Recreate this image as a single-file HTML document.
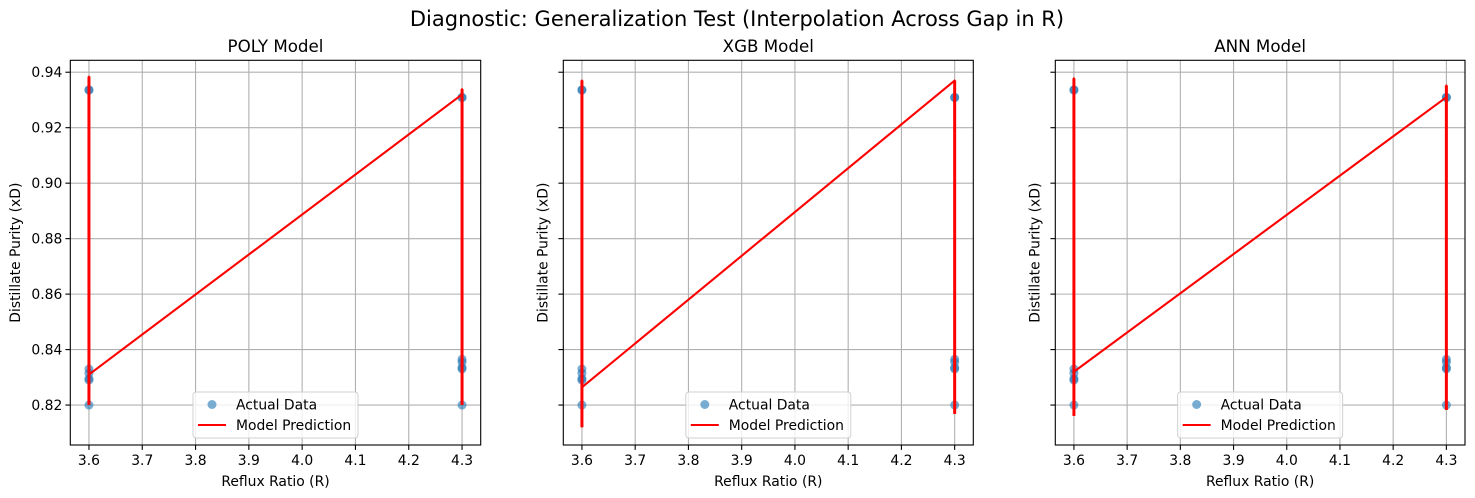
<!DOCTYPE html>
<html><head><meta charset="utf-8"><style>
body{margin:0;background:#fff;}
svg{display:block;font-family:"DejaVu Sans","Liberation Sans",sans-serif;}
</style></head><body>
<svg id="fig" width="1475" height="498" viewBox="0 0 1475 498">
<text x="737" y="26" font-size="21" text-anchor="middle" fill="#000">Diagnostic: Generalization Test (Interpolation Across Gap in R)</text>
</svg>
<script>
const xTicks = [3.6, 3.7, 3.8, 3.9, 4.0, 4.1, 4.2, 4.3];
const xTickLabels = ["3.6","3.7","3.8","3.9","4.0","4.1","4.2","4.3"];
const yTicks = [0.82, 0.84, 0.86, 0.88, 0.90, 0.92, 0.94];
const yTickLabels = ["0.82","0.84","0.86","0.88","0.90","0.92","0.94"];
const modelNames = ["POLY Model", "XGB Model", "ANN Model"];
const actualX = [3.6,3.6,3.6,3.6,3.6,3.6,3.6,4.3,4.3,4.3,4.3,4.3,4.3,4.3];
const actualY = [0.9335,0.9337,0.833,0.8315,0.8295,0.829,0.82,0.931,0.9308,0.8365,0.8355,0.8335,0.833,0.82];
const predX = [3.6,3.6,3.6,4.3,4.3,4.3];
const polyPredY = [0.82,0.9384,0.831,0.932,0.9339,0.82];
const xgbPredY = [0.812,0.937,0.8264,0.937,0.937,0.8168];
const annPredY = [0.8161,0.9378,0.832,0.931,0.9352,0.8182];
const predSeries = [polyPredY, xgbPredY, annPredY];

const NS = "http://www.w3.org/2000/svg";
const svg = document.getElementById("fig");
const panels = [{l:70.3,r:480.7},{l:563.3,r:973.3},{l:1055.3,r:1465}];
const top_ = 60.3, bot = 445;
const xMin = 3.565, xMax = 4.335, yMin = 0.8056, yMax = 0.9443;
function mk(tag, attrs, parent){const e=document.createElementNS(NS,tag);for(const k in attrs)e.setAttribute(k,attrs[k]);(parent||svg).appendChild(e);return e;}

panels.forEach((p, i) => {
  const sx = v => p.l + (v - xMin) / (xMax - xMin) * (p.r - p.l);
  const sy = v => bot - (v - yMin) / (yMax - yMin) * (bot - top_);
  const g = mk("g", {});
  
  
  xTicks.forEach((t, k) => {
    const x = sx(t);
    const ln = mk("line", {x1:x,x2:x,y1:top_,y2:bot,stroke:"#b0b0b0","stroke-width":1.1}, g);
    
    
    mk("line", {x1:x,x2:x,y1:bot,y2:bot+4.9,stroke:"#000","stroke-width":1.1}, g);
    const tx = mk("text", {x:x,y:bot+20,"font-size":13.9,"text-anchor":"middle",fill:"#000"}, g);
    tx.textContent = xTickLabels[k];
    
    
  });
  yTicks.forEach((t, k) => {
    const y = sy(t);
    const ln = mk("line", {x1:p.l,x2:p.r,y1:y,y2:y,stroke:"#b0b0b0","stroke-width":1.1}, g);
    
    
    mk("line", {x1:p.l-4.9,x2:p.l,y1:y,y2:y,stroke:"#000","stroke-width":1.1}, g);
    if (i === 0) {
      const tx = mk("text", {x:p.l-8,y:y+5,"font-size":13.9,"text-anchor":"end",fill:"#000"}, g);
      tx.textContent = yTickLabels[k];
      
      
    }
  });
  actualX.forEach((xv, k) => {
    const c = mk("circle", {cx:sx(xv),cy:sy(actualY[k]),r:4.5,fill:"#1f77b4","fill-opacity":0.6}, g);
    
    
  });
  const pts = predX.map((xv, k) => sx(xv) + "," + sy(predSeries[i][k])).join(" ");
  const pl = mk("polyline", {points:pts,fill:"none",stroke:"#ff0000","stroke-width":2.1,"stroke-linejoin":"round"}, g);
  
  
  // thicken verticals (retraced lines in original)
  [0,3].forEach(s => {
    const v = mk("line", {x1:sx(predX[s]),x2:sx(predX[s+2]),y1:sy(Math.min(...predSeries[i].slice(s,s+3))),y2:sy(Math.max(...predSeries[i].slice(s,s+3))),stroke:"#ff0000","stroke-width":3}, g);
    
    
  });
  const fr = mk("rect", {x:p.l,y:top_,width:p.r-p.l,height:bot-top_,fill:"none",stroke:"#000","stroke-width":1.1}, g);
  
  
  const cx = (p.l + p.r) / 2;
  const ti = mk("text", {x:cx,y:52,"font-size":16.7,"text-anchor":"middle",fill:"#000"}, g);
  ti.textContent = modelNames[i];
  
  
  const xl = mk("text", {x:cx,y:486,"font-size":13.9,"text-anchor":"middle",fill:"#000"}, g);
  xl.textContent = "Reflux Ratio (R)";
  
  
  const yx = i === 0 ? 20 : p.l - 16;
  const yl = mk("text", {x:yx,y:(top_+bot)/2,"font-size":13.9,"text-anchor":"middle",fill:"#000",transform:`rotate(-90 ${yx} ${(top_+bot)/2})`}, g);
  yl.textContent = "Distillate Purity (xD)";
  
  
  const lg = mk("g", {}, g);
  
  
  const lw = 165, lh = 46, lx = cx - lw/2, ly = 392;
  mk("rect", {x:lx,y:ly,width:lw,height:lh,rx:3,fill:"#fff","fill-opacity":0.8,stroke:"#d0d0d0","stroke-width":1}, lg);
  mk("circle", {cx:lx+19,cy:ly+12.5,r:4.5,fill:"#1f77b4","fill-opacity":0.6}, lg);
  const t1 = mk("text", {x:lx+43,y:ly+17.5,"font-size":13.9,fill:"#000"}, lg);
  t1.textContent = "Actual Data";
  
  
  mk("line", {x1:lx+5,x2:lx+33,y1:ly+33,y2:ly+33,stroke:"#ff0000","stroke-width":2.1}, lg);
  const t2 = mk("text", {x:lx+43,y:ly+38,"font-size":13.9,fill:"#000"}, lg);
  t2.textContent = "Model Prediction";
  
  
});
</script>
</body></html>
